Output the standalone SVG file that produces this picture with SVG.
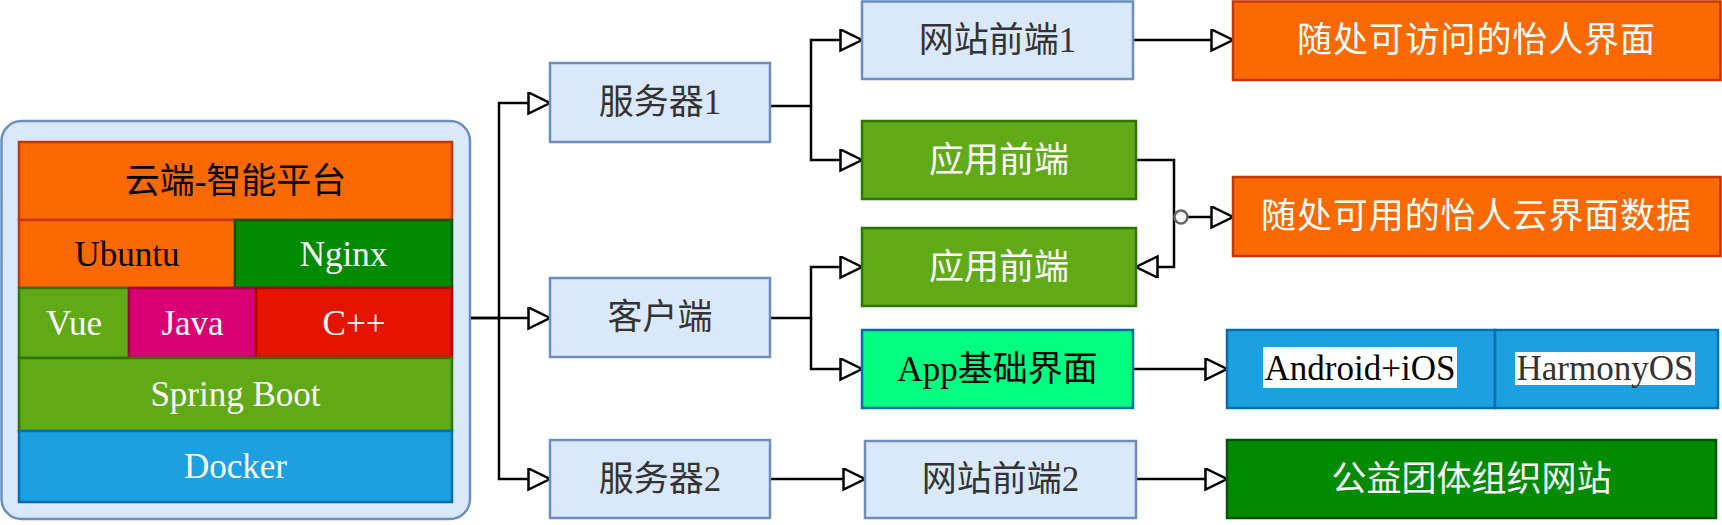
<svg xmlns="http://www.w3.org/2000/svg" width="1722" height="525" viewBox="0 0 1722 525">
<defs>
<style>
text{font-family:"Liberation Serif","Noto Sans CJK SC",serif;font-size:35px;text-anchor:middle;dominant-baseline:central}
.blue{fill:#dae8fc;stroke:#6c8ebf;stroke-width:2.5}
.orange{fill:#fa6800;stroke:#c73500;stroke-width:2.5}
.dgreen{fill:#008a00;stroke:#005700;stroke-width:2.5}
.lgreen{fill:#60a917;stroke:#2d7600;stroke-width:2.5}
.pink{fill:#d80073;stroke:#a50040;stroke-width:2.5}
.red{fill:#e51400;stroke:#b20000;stroke-width:2.5}
.cyan{fill:#1ba1e2;stroke:#006eaf;stroke-width:2.5}
.mint{fill:#00ff80;stroke:#006eaf;stroke-width:2.5}
.tw{fill:#ffffff}
.tb{fill:#000000}
.tg{fill:#333333}
.edge{fill:none;stroke:#000;stroke-width:2.5;marker-end:url(#arr)}
</style>
<marker id="arr" markerUnits="userSpaceOnUse" markerWidth="30" markerHeight="30" refX="23" refY="11" orient="auto">
<path d="M1.5,0.5 L23,11 L1.5,21.5 Z" fill="#fff" stroke="#000" stroke-width="2.5"/>
</marker>
</defs>

<g id="platform">
<rect x="1.5" y="121" width="468.5" height="398" rx="20" ry="20" class="blue"/>
<g id="cloud"><rect x="19" y="142" width="433" height="78" class="orange"/><text x="235.5" y="181" class="tb">云端-智能平台</text></g>
<g id="ubuntu"><rect x="19" y="220" width="216" height="68" class="orange"/><text x="127" y="254" class="tb">Ubuntu</text></g>
<g id="nginx"><rect x="235" y="220" width="217" height="68" class="dgreen"/><text x="343.5" y="254" class="tw">Nginx</text></g>
<g id="vue"><rect x="19" y="288" width="110" height="70" class="lgreen"/><text x="74" y="323" class="tw">Vue</text></g>
<g id="java"><rect x="129" y="288" width="127" height="70" class="pink"/><text x="192.5" y="323" class="tw">Java</text></g>
<g id="cpp"><rect x="256" y="288" width="196" height="70" class="red"/><text x="354" y="323" class="tw">C++</text></g>
<g id="spring"><rect x="19" y="358" width="433" height="73" class="lgreen"/><text x="235.5" y="394" class="tw">Spring Boot</text></g>
<g id="docker"><rect x="19" y="431" width="433" height="71" class="cyan"/><text x="235.5" y="466" class="tw">Docker</text></g>
</g>

<g id="connectors">
<path d="M471,318 H499 V103 H550" class="edge"/>
<path d="M471,318 H550" class="edge"/>
<path d="M499,318 V479 H550" class="edge"/>
<path d="M770,106 H811 V40 H862" class="edge"/>
<path d="M811,106 V160 H862" class="edge"/>
<path d="M770,318 H811 V267 H862" class="edge"/>
<path d="M811,318 V369 H862" class="edge"/>
<path d="M770,479 H865" class="edge"/>
<path d="M1133,40 H1233" class="edge"/>
<path d="M1136,160 H1174 V267 H1136" class="edge"/>
<path d="M1188,217 H1233" class="edge"/>
<path d="M1133,369 H1227" class="edge"/>
<path d="M1136,479 H1227" class="edge"/>
<circle cx="1181" cy="217" r="6.5" fill="#f5f5f5" stroke="#666666" stroke-width="2.5"/>
</g>

<g id="server1"><rect x="550" y="63" width="220" height="79" class="blue"/><text x="660" y="102" class="tg">服务器1</text></g>
<g id="client"><rect x="550" y="278" width="220" height="79" class="blue"/><text x="660" y="317" class="tg">客户端</text></g>
<g id="server2"><rect x="550" y="440" width="220" height="78" class="blue"/><text x="660" y="479" class="tg">服务器2</text></g>

<g id="web1"><rect x="862" y="1.5" width="271" height="77.5" class="blue"/><text x="997.5" y="40" class="tg">网站前端1</text></g>
<g id="app1"><rect x="862" y="121" width="274" height="78" class="lgreen"/><text x="999" y="160" class="tw">应用前端</text></g>
<g id="app2"><rect x="862" y="228" width="274" height="78" class="lgreen"/><text x="999" y="267" class="tw">应用前端</text></g>
<g id="appbase"><rect x="862" y="330" width="271" height="78" class="mint"/><text x="997.5" y="369" class="tb">App基础界面</text></g>
<g id="web2"><rect x="865" y="441" width="271" height="77" class="blue"/><text x="1000.5" y="479" class="tg">网站前端2</text></g>

<g id="ui1"><rect x="1233" y="1.5" width="487.5" height="78.5" class="orange"/><text x="1476" y="40" class="tw" textLength="358" lengthAdjust="spacing">随处可访问的怡人界面</text></g>
<g id="ui2"><rect x="1233" y="177" width="487.5" height="79" class="orange"/><text x="1476" y="216" class="tw" textLength="430" lengthAdjust="spacing">随处可用的怡人云界面数据</text></g>
<g id="android"><rect x="1227" y="330" width="268" height="78" class="cyan"/><rect x="1263" y="347" width="194" height="41" fill="#fff"/><text x="1360" y="368" class="tb">Android+iOS</text></g>
<g id="harmony"><rect x="1495" y="330" width="223" height="78" class="cyan"/><rect x="1515" y="352" width="180" height="33" fill="#fff"/><text x="1605" y="368" class="tg">HarmonyOS</text></g>
<g id="charity"><rect x="1227" y="440" width="489" height="78" class="dgreen"/><text x="1471.5" y="479" class="tw">公益团体组织网站</text></g>
</svg>
